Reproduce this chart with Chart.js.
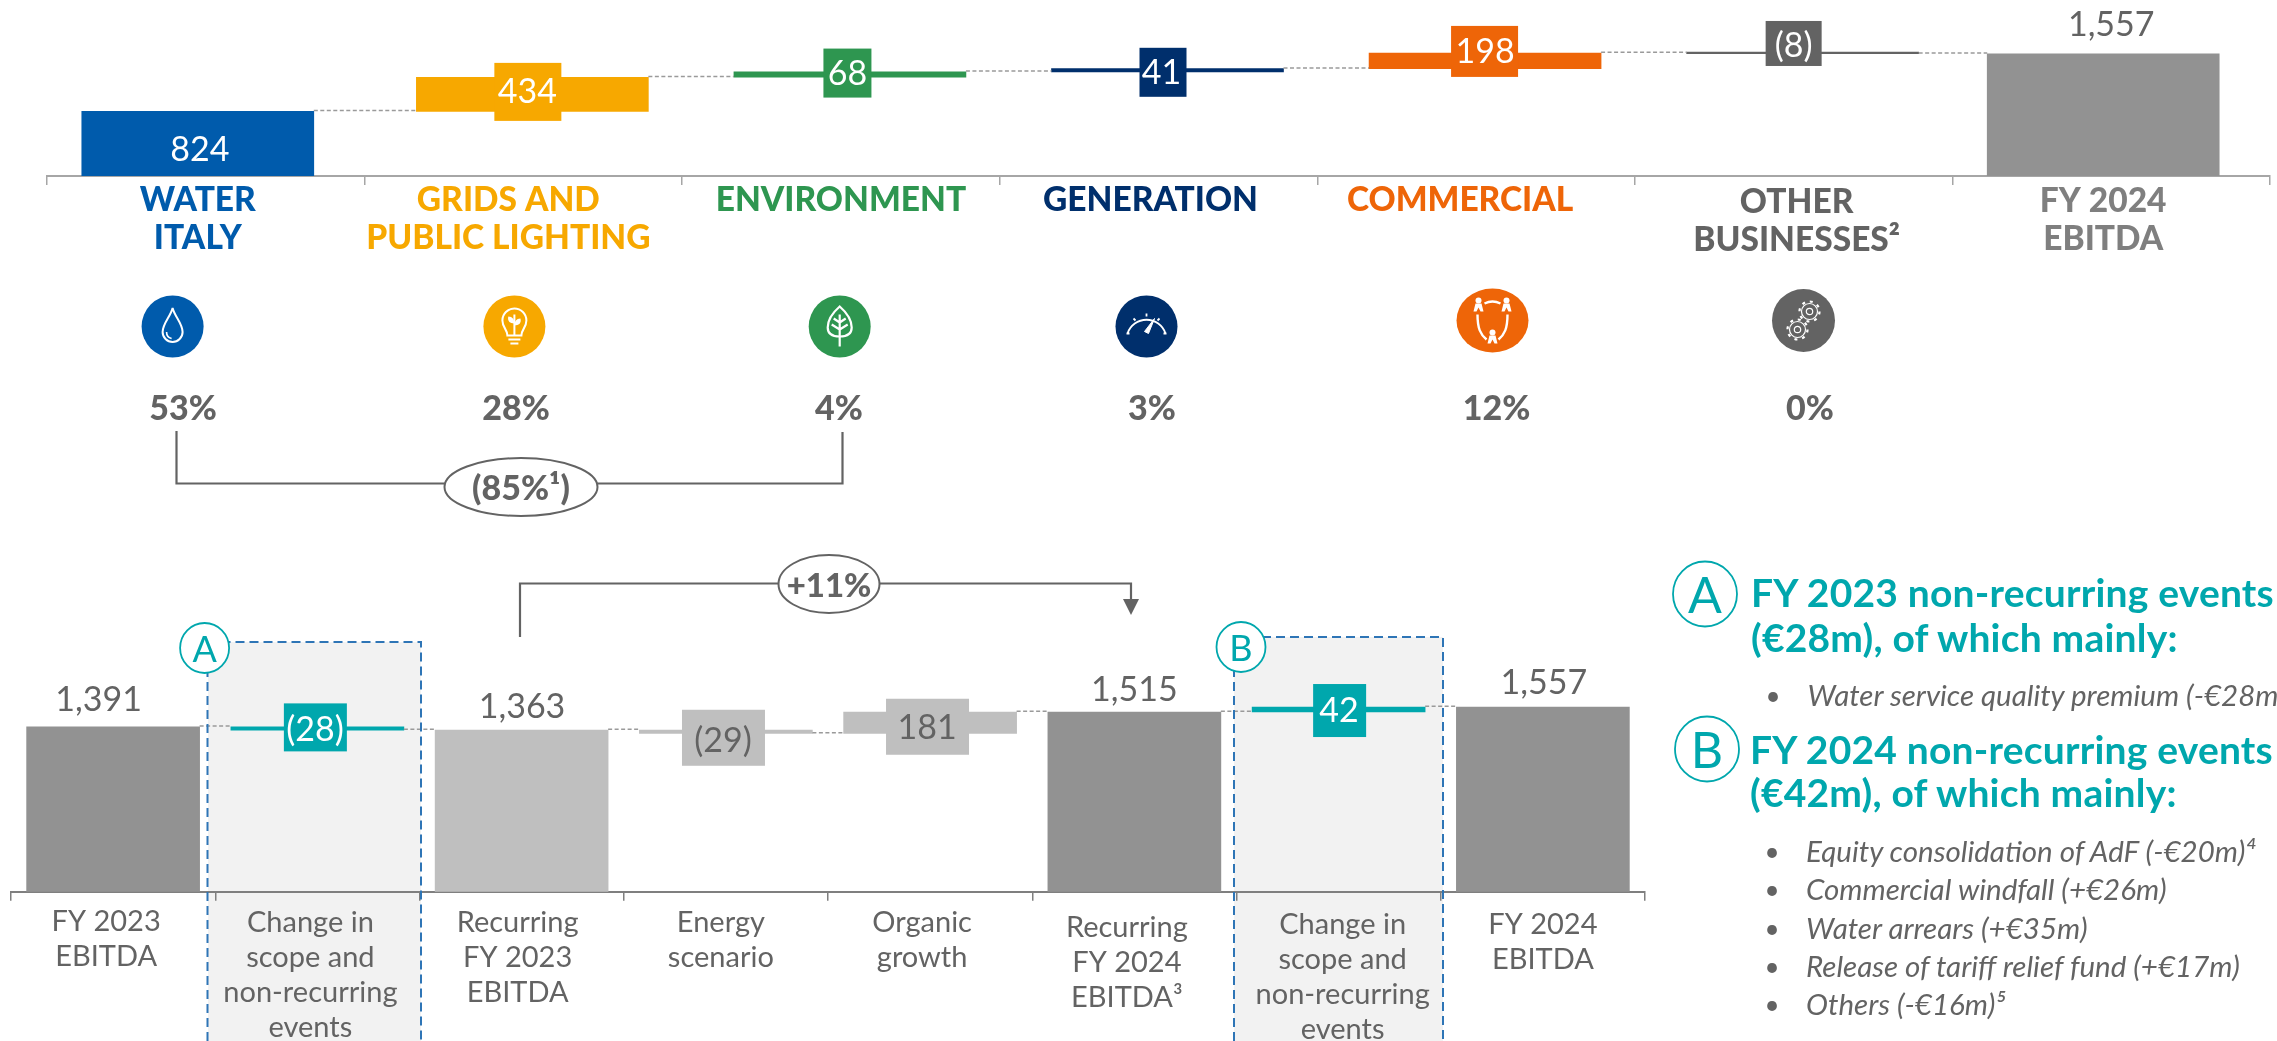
<!DOCTYPE html>
<html><head><meta charset="utf-8">
<style>
html,body{margin:0;padding:0;background:#fff;width:2277px;height:1041px;overflow:hidden;font-family:Lato,sans-serif}
#stage{position:relative;width:2277px;height:1041px;overflow:hidden}
canvas,svg.layer{position:absolute}
.t{position:absolute;white-space:nowrap;color:#636363;line-height:1}
.c{transform:translate(-50%,-50%)}
.l{transform:translateY(-50%)}
</style>
<script src="https://cdn.jsdelivr.net/npm/chart.js@4/dist/chart.umd.min.js"></script>
</head><body><div id="stage">
<svg class="layer" id="under" width="2277" height="1041" style="left:0;top:0;z-index:0">
  <rect x="208" y="642" width="213" height="399" fill="#f2f2f2"/>
  <rect x="1234" y="637" width="209" height="404" fill="#f2f2f2"/>
</svg>
<canvas id="top" width="2277" height="256" style="left:0;top:0;z-index:1"></canvas>
<canvas id="bottom" width="2277" height="421" style="left:0;top:620px;z-index:1"></canvas>
<svg class="layer" id="over" width="2277" height="1041" style="left:0;top:0;z-index:2">
  <g fill="none" stroke="#2e75b6" stroke-width="2" stroke-dasharray="9 5">
    <path d="M207.5 1041V660M207.5 642H421V1041"/>
    <path d="M1234 1041V660M1234 637H1443V1041"/>
  </g>
  <g fill="none" stroke="#636363" stroke-width="2.2">
    <path d="M176.5 431V483.5H842.5V432"/>
    <path d="M520 637V583.5H1131V600"/>
  </g>
  <path d="M1123 599H1139L1131 615Z" fill="#636363"/>
  <g fill="#fff" stroke="#636363" stroke-width="2">
    <ellipse cx="521" cy="487" rx="76.5" ry="29"/>
    <ellipse cx="829" cy="584" rx="50.5" ry="29"/>
  </g>
  <g fill="#fff" stroke="#00a7ad" stroke-width="1.8">
    <ellipse cx="204.6" cy="648" rx="24.5" ry="25"/>
    <ellipse cx="1241" cy="647" rx="24.5" ry="25"/>
  </g>
  <g fill="none" stroke="#00a7ad" stroke-width="1.8">
    <ellipse cx="1705" cy="594" rx="32" ry="32.5"/>
    <ellipse cx="1707" cy="749" rx="32" ry="32.5"/>
  </g>
  <!-- icons -->
  <g transform="translate(172.6 326.5)">
    <circle r="31" fill="#005bac"/>
    <path d="M0 -18.5C-2 -10 -10 -3 -10 5.5A10 10 0 0 0 10 5.5C10 -3 2 -10 0 -18.5Z" fill="none" stroke="#fff" stroke-width="2"/>
    <path d="M-6 5.5A6.5 6.5 0 0 0 -1 12" fill="none" stroke="#fff" stroke-width="1.6"/>
  </g>
  <g transform="translate(514.4 326.5)" fill="none" stroke="#fff" stroke-width="2">
    <circle r="31" fill="#f7a800" stroke="none"/>
    <path d="M-7 9C-7 3 -12 1 -12 -6A12 12 0 0 1 12 -6C12 1 7 3 7 9Z"/>
    <path d="M-6 13H6M-4 17H4M0 9V-12"/>
    <path d="M0 -3C-6 -3 -7 -7 -6 -10C-2 -10 0 -7 0 -3ZM0 -1C6 -1 7 -5 6 -8C2 -8 0 -5 0 -1Z" fill="#fff" stroke="none"/>
  </g>
  <g transform="translate(839.7 326.5)" fill="none" stroke="#fff" stroke-width="2.2">
    <circle r="31" fill="#2e9650" stroke="none"/>
    <path d="M0 -20C-8 -13 -12 -6 -12 1C-12 8 -6 10 0 10C6 10 12 8 12 1C12 -6 8 -13 0 -20Z"/>
    <path d="M0 -12V20M0 -4L-6 -8M0 -4L6 -8M0 3L-8 -2M0 3L8 -2"/>
  </g>
  <g transform="translate(1146.5 326.5)" fill="none" stroke="#fff" stroke-width="1.8">
    <circle r="31" fill="#002f6c" stroke="none"/>
    <path d="M-19 7A20 20 0 0 1 19 7M-20 7H-17M17 7H20M0 -13V-10M-13 -8L-11 -6M13 -8L11 -6"/>
    <path d="M-2 5L8 -8L2 7Z" fill="#fff" stroke="#fff" stroke-width="1"/>
  </g>
  <g transform="translate(1492.5 320.5)" fill="none" stroke="#fff" stroke-width="2.4">
    <ellipse rx="36" ry="32" fill="#ee6508" stroke="none"/>
    <path d="M-8 -17Q0 -21 8 -17M-15 -6C-15 8 -12 14 -6 19M15 -6C15 8 12 14 6 19"/>
    <g fill="#fff" stroke="none">
      <circle cx="-14" cy="-20" r="3"/><path d="M-19 -9L-17 -17H-11L-9 -9H-12L-14 -13L-16 -9Z"/>
      <circle cx="14" cy="-20" r="3"/><path d="M9 -9L11 -17H17L19 -9H16L14 -13L12 -9Z"/>
      <circle cx="0" cy="12" r="3"/><path d="M-5 23L-3 15H3L5 23H2L0 19L-2 23Z"/>
    </g>
  </g>
  <g transform="translate(1803.5 320.5)" fill="none" stroke="#fff" stroke-width="1.2">
    <circle r="31.5" fill="#636363" stroke="none"/>
    <circle cx="6" cy="-9" r="3.2"/><circle cx="6" cy="-9" r="10" stroke-width="2.2" stroke-dasharray="3 4.85"/><circle cx="6" cy="-9" r="8"/>
    <circle cx="-6" cy="9" r="3.2"/><circle cx="-6" cy="9" r="10" stroke-width="2.2" stroke-dasharray="3 4.85"/><circle cx="-6" cy="9" r="8"/>
  </g>
</svg>
<div id="texts" style="position:absolute;left:0;top:0;width:2277px;height:1041px;z-index:3"></div>
</div>
<script>
// ---- data ----
const segmentLabels = [['WATER','ITALY'],['GRIDS AND','PUBLIC LIGHTING'],['ENVIRONMENT'],['GENERATION'],['COMMERCIAL'],['OTHER','BUSINESSES²'],['FY 2024','EBITDA']];
const segmentStart  = [0, 824, 1258, 1326, 1367, 1565, 0];
const segmentEnd    = [824, 1258, 1326, 1367, 1565, 1557, 1557];
const segmentText   = ['824','434','68','41','198','(8)','1,557'];
const segmentShare  = ['53%','28%','4%','3%','12%','0%'];

const bridgeLabels = [['FY 2023','EBITDA'],['Change in','scope and','non-recurring','events'],['Recurring','FY 2023','EBITDA'],['Energy','scenario'],['Organic','growth'],['Recurring','FY 2024','EBITDA³'],['Change in','scope and','non-recurring','events'],['FY 2024','EBITDA']];
const bridgeStart = [0, 1391, 0, 1363, 1334, 0, 1515, 0];
const bridgeEnd   = [1391, 1363, 1363, 1334, 1515, 1515, 1557, 1557];
const bridgeText  = ['1,391','(28)','1,363','(29)','181','1,515','42','1,557'];

// ---- styling ----
const FONT='Lato, sans-serif', GREY='#636363', TEAL='#00a7ad';
const topColors=['#005bac','#f7a800','#2e9650','#002f6c','#ee6508','#636363','#929292'];
const topLabelColors=['#005bac','#f7a800','#2e9650','#002f6c','#ee6508','#636363','#7f7f7f'];
const bottomColors=['#929292',TEAL,'#bfbfbf','#bfbfbf','#bfbfbf','#929292',TEAL,'#929292'];
const TEXT_DROP=3;
const topStyle={
  barDx:[-8,9,9,9,9,9,-8],
  tick:[[-8,0],[-15,0],[0,0],[-8,0],[-16,0],[3,2],[-8,1]],
  labels:[
    {dx:2,dy:3.5,color:'#fff'},
    {dx:-5,dy:-5.4,color:'#fff',box:{w:67,h:58,dx:-4.5,dy:-2.4}},
    {dx:-2.5,dy:-4,color:'#fff',box:{w:48,h:49,dx:-2.5,dy:-1.5}},
    {dx:-6,dy:-0.7,color:'#fff',box:{w:47,h:49,dx:-4.5,dy:2}},
    {dx:0,dy:-12,color:'#fff',box:{w:67,h:51,dx:-0.5,dy:-9.5}},
    {dx:-9,dy:-10,color:'#fff',box:{w:56,h:45,dx:-9,dy:-9.5}},
    {dx:8,dy:-93,color:GREY}
  ]
};
const bottomStyle={
  barDx:[0,0,0,0,0,0,0,0],
  tick:[[-7,0],[-7,1],[-4,1],[-5,1],[-8,1],[-7.5,6],[4,3],[0,3]],
  labels:[
    {dx:-14.5,dy:-112.5,color:GREY},
    {dx:-2.4,dy:-1,color:'#fff',box:{w:63,h:48,dx:-2,dy:-1}},
    {dx:0.4,dy:-107,color:GREY},
    {dx:-2.9,dy:6,color:GREY,box:{w:83,h:56,dx:-2.4,dy:6}},
    {dx:-3,dy:2,color:GREY,box:{w:83,h:56,dx:-2.6,dy:4}},
    {dx:0,dy:-115,color:GREY},
    {dx:0.4,dy:-1.5,color:'#fff',box:{w:53,h:53,dx:1,dy:1}},
    {dx:1,dy:-119,color:GREY}
  ]
};

function waterfallPlugin(style,ends,texts){
  return {
    id:'waterfall',
    afterDatasetsUpdate(chart){
      chart.getDatasetMeta(0).data.forEach((el,i)=>{el.x+=style.barDx[i];});
    },
    afterUpdate(chart){
      chart.scales.x.getLabelItems().forEach((it,i)=>{
        it.options.translation[0]+=style.tick[i][0];
        it.options.translation[1]+=style.tick[i][1];
      });
    },
    afterDatasetsDraw(chart){
      const ctx=chart.ctx, bars=chart.getDatasetMeta(0).data, y=chart.scales.y;
      ctx.save();
      ctx.strokeStyle='#9a9a9a'; ctx.lineWidth=1.5; ctx.setLineDash([4,2.5]);
      bars.forEach((el,i)=>{
        if(i===bars.length-1) return;
        const yy=y.getPixelForValue(ends[i])-0.8;
        ctx.beginPath();
        ctx.moveTo(el.x+el.width/2,yy);
        ctx.lineTo(bars[i+1].x-bars[i+1].width/2,yy);
        ctx.stroke();
      });
      ctx.setLineDash([]);
      bars.forEach((el,i)=>{
        const s=style.labels[i], cy=(el.y+el.base)/2;
        if(s.box){
          ctx.fillStyle=chart.data.datasets[0].backgroundColor[i];
          ctx.fillRect(el.x+s.box.dx-s.box.w/2,cy+s.box.dy-s.box.h/2,s.box.w,s.box.h);
        }
        ctx.fillStyle=s.color;
        ctx.font='34px '+FONT;
        ctx.textAlign='center'; ctx.textBaseline='middle';
        ctx.fillText(texts[i],el.x+s.dx,cy+s.dy+TEXT_DROP);
      });
      ctx.restore();
    }
  };
}

function makeChart(id,labels,starts,ends,colors,texts,style,cfg){
  return new Chart(document.getElementById(id),{
    type:'bar',
    data:{labels,datasets:[{
      data:starts.map((s,i)=>[s,ends[i]]),
      backgroundColor:colors,
      barThickness:cfg.barThickness,
      minBarLength:1.6,
      borderWidth:0
    }]},
    options:{
      responsive:false,animation:false,devicePixelRatio:1,
      layout:{padding:cfg.padding},
      plugins:{legend:{display:false},tooltip:{enabled:false},title:{display:false}},
      scales:{
        y:{display:false,min:0,max:2000},
        x:{
          offset:true,
          afterFit(s){s.height=cfg.axisHeight;},
          border:{display:true,color:cfg.axisColor,width:2},
          grid:{drawOnChartArea:false,drawTicks:true,tickLength:9,color:cfg.axisColor,lineWidth:1.5},
          ticks:{
            autoSkip:false,maxRotation:0,minRotation:0,padding:cfg.tickPad,
            color:cfg.tickColor,
            font:{family:FONT,size:cfg.tickSize,weight:cfg.tickWeight,lineHeight:cfg.tickLine}
          }
        }
      }
    },
    plugins:[waterfallPlugin(style,ends,texts)]
  });
}

makeChart('top',segmentLabels,segmentStart,segmentEnd,topColors,segmentText,topStyle,{
  barThickness:232,padding:{left:47,right:7,top:19,bottom:0},axisHeight:80,axisColor:'#a6a6a6',
  tickPad:-4,tickColor:c=>topLabelColors[c.index],tickSize:33.5,tickWeight:'900',tickLine:1.134
});
makeChart('bottom',bridgeLabels,bridgeStart,bridgeEnd,bottomColors,bridgeText,bottomStyle,{
  barThickness:173,padding:{left:11,right:632,top:34.5,bottom:0},axisHeight:149.3,axisColor:'#7f7f7f',
  tickPad:3,tickColor:GREY,tickSize:29,tickWeight:'400',tickLine:1.21
});

// ---- real text around the charts ----
const box=document.getElementById('texts');
function put(x,y,str,css,cls){
  const d=document.createElement('div');
  d.className='t '+(cls||'c');
  d.style.cssText='left:'+x+'px;top:'+y+'px;'+(css||'');
  d.textContent=str; box.appendChild(d);
}
const shareX=[183,516,839,1152,1496.5,1810];
segmentShare.forEach((s,i)=>put(shareX[i],407,s,'font-size:34px;font-weight:900;'));
put(521,487,'(85%¹)','font-size:34px;font-weight:900;');
put(829,584,'+11%','font-size:33px;font-weight:900;');
put(204.6,648,'A','font-size:36px;color:'+TEAL);
put(1241,647,'B','font-size:36px;color:'+TEAL);
put(1705,594,'A','font-size:50px;color:'+TEAL);
put(1707,749,'B','font-size:50px;color:'+TEAL);
const head='font-size:39px;font-weight:700;letter-spacing:.2px;color:'+TEAL+';';
put(1751,592,'FY 2023 non-recurring events',head,'l');
put(1751,637,'(€28m), of which mainly:',head,'l');
put(1750,749,'FY 2024 non-recurring events',head,'l');
put(1750,792,'(€42m), of which mainly:',head,'l');
const item='font-size:29.5px;font-style:italic;';
const eventsA=['Water service quality premium (-€28m)'];
const eventsB=['Equity consolidation of AdF (-€20m)⁴','Commercial windfall (+€26m)','Water arrears (+€35m)','Release of tariff relief fund (+€17m)','Others (-€16m)⁵'];
const eventsBY=[851,889,928,966,1004];
put(1773,695,'•','font-size:26px;');
put(1807.5,695,eventsA[0],item,'l');
eventsB.forEach((s,i)=>{put(1772,eventsBY[i],'•','font-size:26px;');put(1806,eventsBY[i],s,item,'l');});
</script>
</body></html>
